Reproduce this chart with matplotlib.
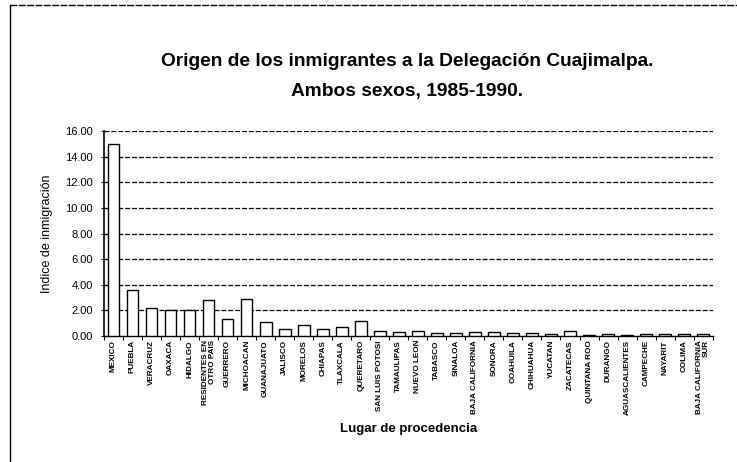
import matplotlib
matplotlib.use("Agg")
import matplotlib.pyplot as plt
from matplotlib.lines import Line2D
import numpy as np

plt.rcParams['font.family'] = ['Liberation Sans', 'DejaVu Sans']

# lugares de procedencia (orden original del grafico)
lugares = ["MEXICO", "PUEBLA", "VERACRUZ", "OAXACA", "HIDALGO",
           "RESIDENTES EN\nOTRO PAIS", "GUERRERO", "MICHOACAN", "GUANAJUATO",
           "JALISCO", "MORELOS", "CHIAPAS", "TLAXCALA", "QUERETARO",
           "SAN LUIS POTOSI", "TAMAULIPAS", "NUEVO LEON", "TABASCO", "SINALOA",
           "BAJA CALIFORNIA", "SONORA", "COAHUILA", "CHIHUAHUA", "YUCATAN",
           "ZACATECAS", "QUINTANA ROO", "DURANGO", "AGUASCALIENTES",
           "CAMPECHE", "NAYARIT", "COLIMA", "BAJA CALIFORNIA\nSUR"]

# indice de inmigracion
indice = [15.0, 3.6, 2.2, 2.0, 2.0,
          2.8, 1.3, 2.9, 1.05,
          0.55, 0.85, 0.52, 0.68, 1.2,
          0.35, 0.3, 0.36, 0.2, 0.2,
          0.34, 0.34, 0.2, 0.2, 0.13,
          0.42, 0.08, 0.12, 0.08,
          0.17, 0.12, 0.17, 0.12]

yticks = [0, 2, 4, 6, 8, 10, 12, 14, 16]

fig = plt.figure(figsize=(7.37, 4.62), dpi=100)
ax = fig.add_axes([0.141, 0.273, 0.826, 0.443])

x = np.arange(len(lugares))
ax.bar(x, indice, width=0.62, color='white', edgecolor='black', linewidth=1.0, zorder=3)

# lineas de division horizontales
for v in yticks[1:]:
    ax.axhline(v, color='black', linewidth=0.9, linestyle=(0, (4, 1.5)), zorder=1)

ax.set_xlim(-0.5, len(lugares) - 0.5)
ax.set_ylim(0, 16)
ax.set_yticks(yticks)
ax.set_yticklabels(["%.2f" % v for v in yticks], fontsize=8)
ax.set_xticks(x)
ax.set_xticklabels(lugares, rotation=90, fontsize=5.9, fontweight='bold',
                   va='top', ha='center', multialignment='right', linespacing=1.0)
ax.tick_params(axis='x', length=0, pad=3)
ax.set_xticks(np.arange(-0.5, len(lugares), 1), minor=True)
ax.tick_params(axis='x', which='minor', length=3, width=0.8, direction='out')
ax.tick_params(axis='y', length=4, width=0.8, direction='inout', pad=6)

for s in ['top', 'right']:
    ax.spines[s].set_visible(False)
ax.spines['left'].set_linewidth(1.2)
ax.spines['bottom'].set_linewidth(1.0)

ax.set_ylabel("Indice de inmigración", fontsize=9, labelpad=9)
ax.set_xlabel("Lugar de procedencia", fontsize=9.5, fontweight='bold', labelpad=6)

fig.text(0.552, 0.866, "Origen de los inmigrantes a la Delegación Cuajimalpa.",
         ha='center', va='center', fontsize=13.8, fontweight='bold')
fig.text(0.552, 0.803, "Ambos sexos, 1985-1990.",
         ha='center', va='center', fontsize=13.8, fontweight='bold')

# marco del grafico (solo borde izquierdo y superior visibles)
fig.add_artist(Line2D([0.013, 0.013], [0.0, 0.99], transform=fig.transFigure,
                      color='black', linewidth=1.0))
fig.add_artist(Line2D([0.013, 1.0], [0.99, 0.99], transform=fig.transFigure,
                      color='black', linewidth=1.0, linestyle=(0, (5, 1))))

fig.savefig("out.png", dpi=100, facecolor='white')
